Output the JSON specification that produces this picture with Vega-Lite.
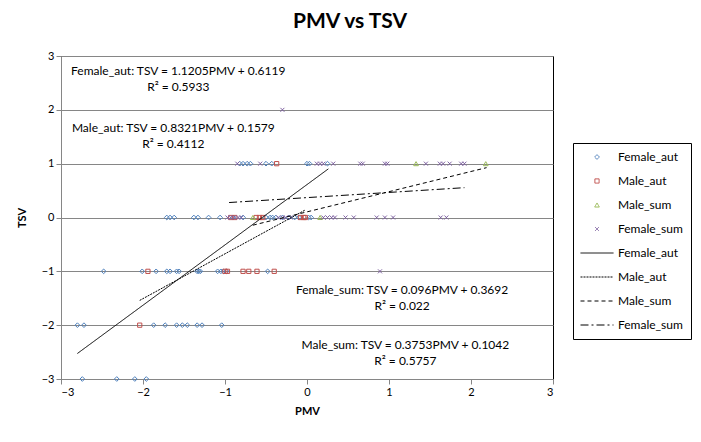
{
  "$schema": "https://vega.github.io/schema/vega-lite/v6.json",
  "width": 492,
  "height": 323,
  "autosize": {"type": "none"},
  "padding": {"left": 61, "top": 56, "right": 148, "bottom": 63},
  "background": "white",
  "title": {"text": "PMV vs TSV", "fontSize": 21, "fontWeight": "bold", "font": "Lato", "color": "black", "anchor": "middle", "dx": 43, "offset": 18},
  "config": {
    "font": "Lato",
    "view": {"stroke": "black", "strokeWidth": 1},
    "axis": {"domainColor": "#868686", "tickColor": "#868686", "tickSize": 5, "labelColor": "black", "labelFontSize": 11, "titleFontSize": 11, "titleFontWeight": "bold", "titleColor": "black", "labelFont": "Lato", "titleFont": "Lato"},
    "legend": {"strokeColor": "black", "padding": 8, "labelFont": "Lato", "labelFontSize": 12, "labelColor": "black", "symbolStrokeWidth": 1, "rowPadding": 12, "symbolOffset": 10, "labelOffset": 15}
  },
  "datasets": {
    "points": [
      {"series": "Female_aut", "PMV": -2.74, "TSV": -3}, {"series": "Female_aut", "PMV": -2.32, "TSV": -3}, {"series": "Female_aut", "PMV": -2.10, "TSV": -3}, {"series": "Female_aut", "PMV": -1.96, "TSV": -3},
      {"series": "Female_aut", "PMV": -2.80, "TSV": -2}, {"series": "Female_aut", "PMV": -2.72, "TSV": -2}, {"series": "Female_aut", "PMV": -1.87, "TSV": -2}, {"series": "Female_aut", "PMV": -1.73, "TSV": -2}, {"series": "Female_aut", "PMV": -1.59, "TSV": -2}, {"series": "Female_aut", "PMV": -1.52, "TSV": -2}, {"series": "Female_aut", "PMV": -1.46, "TSV": -2}, {"series": "Female_aut", "PMV": -1.34, "TSV": -2}, {"series": "Female_aut", "PMV": -1.28, "TSV": -2}, {"series": "Female_aut", "PMV": -1.04, "TSV": -2},
      {"series": "Female_aut", "PMV": -2.48, "TSV": -1}, {"series": "Female_aut", "PMV": -2.01, "TSV": -1}, {"series": "Female_aut", "PMV": -1.84, "TSV": -1}, {"series": "Female_aut", "PMV": -1.71, "TSV": -1}, {"series": "Female_aut", "PMV": -1.67, "TSV": -1}, {"series": "Female_aut", "PMV": -1.59, "TSV": -1}, {"series": "Female_aut", "PMV": -1.56, "TSV": -1}, {"series": "Female_aut", "PMV": -1.34, "TSV": -1}, {"series": "Female_aut", "PMV": -1.32, "TSV": -1}, {"series": "Female_aut", "PMV": -1.30, "TSV": -1}, {"series": "Female_aut", "PMV": -1.09, "TSV": -1}, {"series": "Female_aut", "PMV": -1.05, "TSV": -1}, {"series": "Female_aut", "PMV": -1.02, "TSV": -1}, {"series": "Female_aut", "PMV": -0.98, "TSV": -1}, {"series": "Female_aut", "PMV": -0.48, "TSV": -1},
      {"series": "Female_aut", "PMV": -1.71, "TSV": 0}, {"series": "Female_aut", "PMV": -1.67, "TSV": 0}, {"series": "Female_aut", "PMV": -1.62, "TSV": 0}, {"series": "Female_aut", "PMV": -1.38, "TSV": 0}, {"series": "Female_aut", "PMV": -1.33, "TSV": 0}, {"series": "Female_aut", "PMV": -1.20, "TSV": 0}, {"series": "Female_aut", "PMV": -1.06, "TSV": 0}, {"series": "Female_aut", "PMV": -0.90, "TSV": 0}, {"series": "Female_aut", "PMV": -0.78, "TSV": 0}, {"series": "Female_aut", "PMV": -0.50, "TSV": 0}, {"series": "Female_aut", "PMV": -0.45, "TSV": 0}, {"series": "Female_aut", "PMV": -0.42, "TSV": 0}, {"series": "Female_aut", "PMV": -0.38, "TSV": 0}, {"series": "Female_aut", "PMV": -0.30, "TSV": 0}, {"series": "Female_aut", "PMV": -0.22, "TSV": 0}, {"series": "Female_aut", "PMV": -0.15, "TSV": 0}, {"series": "Female_aut", "PMV": -0.10, "TSV": 0}, {"series": "Female_aut", "PMV": 0.02, "TSV": 0}, {"series": "Female_aut", "PMV": 0.05, "TSV": 0},
      {"series": "Female_aut", "PMV": -0.82, "TSV": 1}, {"series": "Female_aut", "PMV": -0.78, "TSV": 1}, {"series": "Female_aut", "PMV": -0.73, "TSV": 1}, {"series": "Female_aut", "PMV": -0.69, "TSV": 1}, {"series": "Female_aut", "PMV": -0.50, "TSV": 1}, {"series": "Female_aut", "PMV": -0.43, "TSV": 1}, {"series": "Female_aut", "PMV": 0.00, "TSV": 1}, {"series": "Female_aut", "PMV": 0.03, "TSV": 1}, {"series": "Female_aut", "PMV": 0.25, "TSV": 1},
      {"series": "Male_aut", "PMV": -2.04, "TSV": -2},
      {"series": "Male_aut", "PMV": -1.94, "TSV": -1}, {"series": "Male_aut", "PMV": -1.00, "TSV": -1}, {"series": "Male_aut", "PMV": -0.97, "TSV": -1}, {"series": "Male_aut", "PMV": -0.78, "TSV": -1}, {"series": "Male_aut", "PMV": -0.71, "TSV": -1}, {"series": "Male_aut", "PMV": -0.61, "TSV": -1}, {"series": "Male_aut", "PMV": -0.40, "TSV": -1},
      {"series": "Male_aut", "PMV": -0.93, "TSV": 0}, {"series": "Male_aut", "PMV": -0.88, "TSV": 0}, {"series": "Male_aut", "PMV": -0.62, "TSV": 0}, {"series": "Male_aut", "PMV": -0.58, "TSV": 0}, {"series": "Male_aut", "PMV": -0.54, "TSV": 0}, {"series": "Male_aut", "PMV": -0.08, "TSV": 0}, {"series": "Male_aut", "PMV": -0.04, "TSV": 0}, {"series": "Male_aut", "PMV": -0.02, "TSV": 0},
      {"series": "Male_aut", "PMV": -0.37, "TSV": 1},
      {"series": "Male_sum", "PMV": -0.66, "TSV": 0}, {"series": "Male_sum", "PMV": 0.16, "TSV": 0}, {"series": "Male_sum", "PMV": 1.33, "TSV": 1}, {"series": "Male_sum", "PMV": 2.18, "TSV": 1},
      {"series": "Female_sum", "PMV": -0.30, "TSV": 2},
      {"series": "Female_sum", "PMV": -0.85, "TSV": 1}, {"series": "Female_sum", "PMV": -0.57, "TSV": 1}, {"series": "Female_sum", "PMV": 0.12, "TSV": 1}, {"series": "Female_sum", "PMV": 0.16, "TSV": 1}, {"series": "Female_sum", "PMV": 0.20, "TSV": 1}, {"series": "Female_sum", "PMV": 0.32, "TSV": 1}, {"series": "Female_sum", "PMV": 0.65, "TSV": 1}, {"series": "Female_sum", "PMV": 0.68, "TSV": 1}, {"series": "Female_sum", "PMV": 0.95, "TSV": 1}, {"series": "Female_sum", "PMV": 0.98, "TSV": 1}, {"series": "Female_sum", "PMV": 1.45, "TSV": 1}, {"series": "Female_sum", "PMV": 1.62, "TSV": 1}, {"series": "Female_sum", "PMV": 1.66, "TSV": 1}, {"series": "Female_sum", "PMV": 1.74, "TSV": 1}, {"series": "Female_sum", "PMV": 1.88, "TSV": 1}, {"series": "Female_sum", "PMV": 1.92, "TSV": 1},
      {"series": "Female_sum", "PMV": -0.97, "TSV": 0}, {"series": "Female_sum", "PMV": -0.93, "TSV": 0}, {"series": "Female_sum", "PMV": -0.89, "TSV": 0}, {"series": "Female_sum", "PMV": -0.84, "TSV": 0}, {"series": "Female_sum", "PMV": -0.80, "TSV": 0}, {"series": "Female_sum", "PMV": -0.35, "TSV": 0}, {"series": "Female_sum", "PMV": -0.30, "TSV": 0}, {"series": "Female_sum", "PMV": -0.26, "TSV": 0}, {"series": "Female_sum", "PMV": -0.20, "TSV": 0}, {"series": "Female_sum", "PMV": 0.20, "TSV": 0}, {"series": "Female_sum", "PMV": 0.25, "TSV": 0}, {"series": "Female_sum", "PMV": 0.30, "TSV": 0}, {"series": "Female_sum", "PMV": 0.34, "TSV": 0}, {"series": "Female_sum", "PMV": 0.47, "TSV": 0}, {"series": "Female_sum", "PMV": 0.57, "TSV": 0}, {"series": "Female_sum", "PMV": 0.85, "TSV": 0}, {"series": "Female_sum", "PMV": 0.95, "TSV": 0}, {"series": "Female_sum", "PMV": 1.05, "TSV": 0}, {"series": "Female_sum", "PMV": 1.63, "TSV": 0}, {"series": "Female_sum", "PMV": 1.70, "TSV": 0},
      {"series": "Female_sum", "PMV": 0.89, "TSV": -1}
    ],
    "lines": [
      {"series": "Female_aut (line)", "PMV": -2.80, "TSV": -2.526}, {"series": "Female_aut (line)", "PMV": 0.26, "TSV": 0.903},
      {"series": "Male_aut (line)", "PMV": -2.04, "TSV": -1.540}, {"series": "Male_aut (line)", "PMV": -0.02, "TSV": 0.141},
      {"series": "Male_sum (line)", "PMV": -0.66, "TSV": -0.143}, {"series": "Male_sum (line)", "PMV": 2.19, "TSV": 0.926},
      {"series": "Female_sum (line)", "PMV": -0.95, "TSV": 0.278}, {"series": "Female_sum (line)", "PMV": 1.92, "TSV": 0.554}
    ],
    "notes": [
      {"label": "Female_aut: TSV = 1.1205PMV + 0.6119", "PMV": -1.57, "TSV": 2.72},
      {"label": "R² = 0.5933", "PMV": -1.57, "TSV": 2.43},
      {"label": "Male_aut: TSV = 0.8321PMV + 0.1579", "PMV": -1.63, "TSV": 1.67},
      {"label": "R² = 0.4112", "PMV": -1.63, "TSV": 1.37},
      {"label": "Female_sum: TSV = 0.096PMV + 0.3692", "PMV": 1.16, "TSV": -1.35},
      {"label": "R² = 0.022", "PMV": 1.16, "TSV": -1.65},
      {"label": "Male_sum: TSV = 0.3753PMV + 0.1042", "PMV": 1.20, "TSV": -2.37},
      {"label": "R² = 0.5757", "PMV": 1.20, "TSV": -2.67}
    ]
  },
  "encoding": {
    "x": {"field": "PMV", "type": "quantitative", "scale": {"domain": [-3, 3], "nice": false}, "axis": {"title": "PMV", "values": [-3, -2, -1, 0, 1, 2, 3], "grid": false, "titlePadding": 8}},
    "y": {"field": "TSV", "type": "quantitative", "scale": {"domain": [-3, 3], "nice": false}, "axis": {"title": "TSV", "values": [-3, -2, -1, 0, 1, 2, 3], "grid": true, "gridColor": "#868686", "gridOpacity": 1, "titlePadding": 14}}
  },
  "layer": [
    {
      "data": {"name": "points"},
      "mark": {"type": "point", "filled": false, "strokeWidth": 1, "opacity": 1},
      "encoding": {
        "color": {"field": "series", "type": "nominal", "scale": {"domain": ["Female_aut", "Male_aut", "Male_sum", "Female_sum", "Female_aut (line)", "Male_aut (line)", "Male_sum (line)", "Female_sum (line)"], "range": ["#4F81BD", "#C0504D", "#9BBB59", "#8064A2", "black", "black", "black", "black"]}, "legend": {"title": null, "orient": "none", "legendX": 512, "legendY": 87, "labelExpr": "replace(datum.label, ' (line)', '')"}},
        "shape": {"field": "series", "type": "nominal", "scale": {"domain": ["Female_aut", "Male_aut", "Male_sum", "Female_sum", "Female_aut (line)", "Male_aut (line)", "Male_sum (line)", "Female_sum (line)"], "range": ["diamond", "square", "triangle-up", "M-1,-1L1,1M-1,1L1,-1", "M-3,0L3,0", "M-3,0L3,0", "M-3,0L3,0", "M-3,0L3,0"]}, "legend": {"title": null, "orient": "none", "legendX": 512, "legendY": 87, "labelExpr": "replace(datum.label, ' (line)', '')"}},
        "size": {"field": "series", "type": "nominal", "scale": {"type": "ordinal", "domain": ["Female_aut", "Male_aut", "Male_sum", "Female_sum", "Female_aut (line)", "Male_aut (line)", "Male_sum (line)", "Female_sum (line)"], "range": [22, 18, 22, 16, 121, 121, 121, 121]}, "legend": {"title": null, "orient": "none", "legendX": 512, "legendY": 87, "labelExpr": "replace(datum.label, ' (line)', '')"}}
      }
    },
    {
      "data": {"name": "lines"},
      "mark": {"type": "line", "strokeWidth": 1},
      "encoding": {
        "color": {"field": "series", "type": "nominal", "legend": {"title": null, "orient": "none", "legendX": 512, "legendY": 87, "labelExpr": "replace(datum.label, ' (line)', '')"}},
        "strokeDash": {"field": "series", "type": "nominal", "scale": {"domain": ["Female_aut", "Male_aut", "Male_sum", "Female_sum", "Female_aut (line)", "Male_aut (line)", "Male_sum (line)", "Female_sum (line)"], "range": [[1, 0], [1, 0], [1, 0], [1, 0], [1, 0], [2, 1], [4, 3], [8, 3, 2, 3]]}, "legend": {"title": null, "orient": "none", "legendX": 512, "legendY": 87, "labelExpr": "replace(datum.label, ' (line)', '')"}}
      }
    },
    {
      "data": {"name": "notes"},
      "mark": {"type": "text", "fontSize": 12, "font": "Lato", "color": "black", "align": "center", "baseline": "middle"},
      "encoding": {"text": {"field": "label", "type": "nominal"}}
    }
  ]
}
